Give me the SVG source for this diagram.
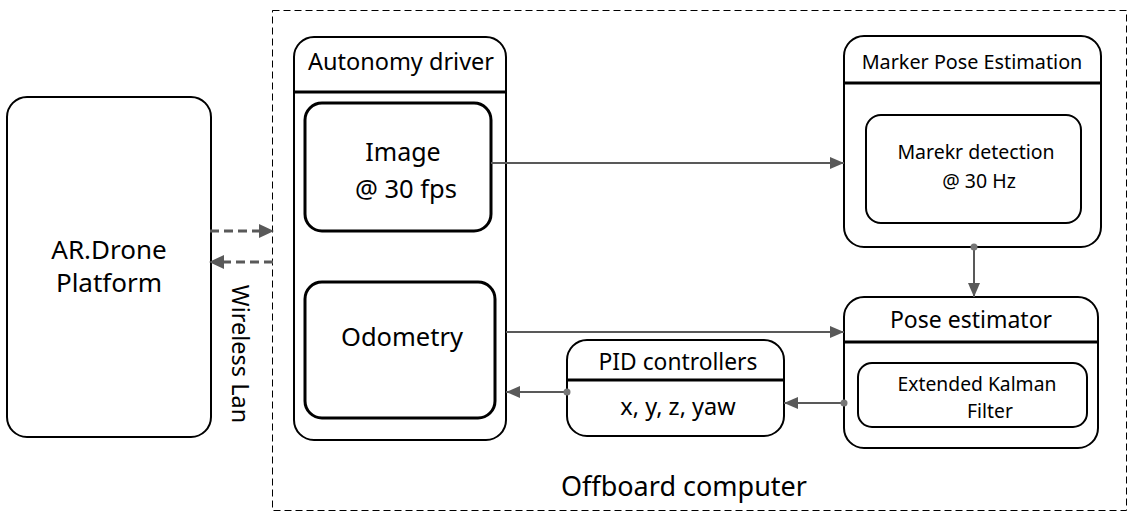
<svg xmlns="http://www.w3.org/2000/svg" width="1133" height="527" viewBox="0 0 1133 527">
<defs>
<marker id="ah" markerWidth="14" markerHeight="12" refX="14" refY="6" orient="auto" markerUnits="userSpaceOnUse">
<path d="M0,0 L14,6 L0,12 Z" fill="#595959"/>
</marker>
<style>
text{font-family:"Noto Sans","Open Sans","DejaVu Sans",sans-serif;fill:#000;text-anchor:middle}
.box{fill:#fff;stroke:#000;stroke-width:2}
.inner{fill:#fff;stroke:#000;stroke-width:3}
.innerThin{fill:#fff;stroke:#000;stroke-width:2}
.div{stroke:#000;stroke-width:3}
.conn{stroke:#595959;stroke-width:2;fill:none}
.dash{stroke:#595959;stroke-width:3;fill:none;stroke-dasharray:9,5}
.dot{fill:#777}
</style>
</defs>
<rect width="1133" height="527" fill="#fff"/>

<g id="offboard">
<rect x="272.5" y="10.5" width="854" height="500" fill="none" stroke="#000" stroke-width="1" stroke-dasharray="7,4"/>
<text x="684" y="496" font-size="27">Offboard computer</text>
</g>

<g id="ardrone">
<rect class="box" x="7" y="97" width="204" height="340" rx="20"/>
<text x="109" y="259" font-size="26">AR.Drone</text>
<text x="109" y="292" font-size="26">Platform</text>
</g>

<g id="autonomy">
<path class="box" d="M294,420 V57 A20,20 0 0 1 314,37 H486 A20,20 0 0 1 506,57 V420 A20,20 0 0 1 486,440 H314 A20,20 0 0 1 294,420 Z"/>
<line class="div" x1="294" y1="92" x2="506" y2="92"/>
<text x="401" y="70" font-size="23.5">Autonomy driver</text>
</g>

<g id="image">
<rect class="inner" x="305" y="103" width="186" height="128" rx="17"/>
<text x="403" y="161" font-size="25">Image</text>
<text x="406" y="198" font-size="25.5">@ 30 fps</text>
</g>

<g id="odometry">
<rect class="inner" x="305" y="282" width="190" height="136" rx="17"/>
<text x="402" y="346" font-size="25.5">Odometry</text>
</g>

<g id="markerpose">
<rect class="box" x="844" y="36" width="257" height="211" rx="20"/>
<line class="div" x1="844" y1="83" x2="1101" y2="83"/>
<text x="972" y="69" font-size="19.8">Marker Pose Estimation</text>
</g>

<g id="markerdetect">
<rect class="innerThin" x="866" y="115" width="215" height="108" rx="15"/>
<text x="976" y="159" font-size="19.5">Marekr detection</text>
<text x="979" y="188" font-size="19.5">@ 30 Hz</text>
</g>

<g id="poseest">
<rect class="box" x="844" y="297" width="254" height="151" rx="20"/>
<line class="div" x1="844" y1="342" x2="1098" y2="342"/>
<text x="971" y="328" font-size="23">Pose estimator</text>
</g>

<g id="ekf">
<rect class="innerThin" x="858" y="363" width="229" height="64" rx="14"/>
<text x="977" y="391" font-size="19.3">Extended Kalman</text>
<text x="990" y="418" font-size="19.3">Filter</text>
</g>

<g id="pid">
<rect class="box" x="567" y="340" width="217" height="96" rx="20"/>
<line class="div" x1="567" y1="380" x2="784" y2="380"/>
<text x="678" y="370" font-size="22.8">PID controllers</text>
<text x="678" y="415" font-size="23.5">x, y, z, yaw</text>
</g>

<g id="wireless">
<text x="0" y="0" font-size="23.5" transform="translate(232,354) rotate(90)">Wireless Lan</text>
</g>

<g id="connectors">
<line class="dash" x1="210" y1="231" x2="259" y2="231"/>
<path d="M259,224 L274,231 L259,238 Z" fill="#595959"/>
<line class="dash" x1="273" y1="262" x2="224" y2="262"/>
<path d="M224,255 L209,262 L224,269 Z" fill="#595959"/>
<line class="conn" x1="491" y1="163" x2="844" y2="163" marker-end="url(#ah)"/>
<line class="conn" x1="506" y1="332" x2="844" y2="332" marker-end="url(#ah)"/>
<line class="conn" x1="974" y1="247" x2="974" y2="297" marker-end="url(#ah)"/>
<circle class="dot" cx="974" cy="247" r="3.5"/>
<line class="conn" x1="567" y1="392" x2="506" y2="392" marker-end="url(#ah)"/>
<circle class="dot" cx="567" cy="392" r="3.5"/>
<line class="conn" x1="844" y1="403" x2="784" y2="403" marker-end="url(#ah)"/>
<circle class="dot" cx="844" cy="403" r="3.5"/>
</g>
</svg>
